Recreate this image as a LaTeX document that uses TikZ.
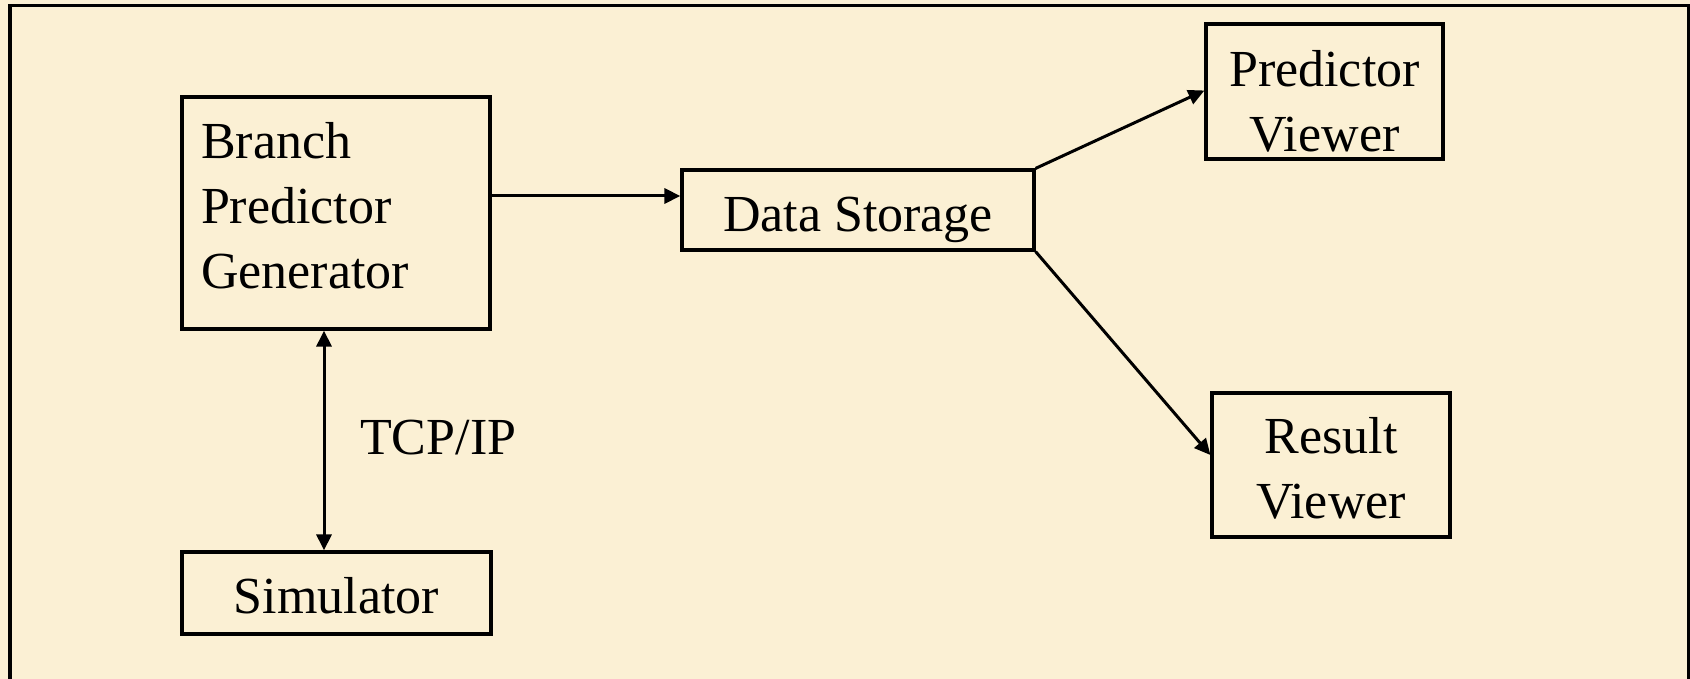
\documentclass[tikz,border=0pt]{standalone}
\usepackage{fontspec}
\setmainfont{Liberation Serif}
\usetikzlibrary{arrows.meta}
\definecolor{parch}{HTML}{FBF0D4}
\tikzset{
  boxst/.style={draw=black, line width=3.2pt, rectangle, inner sep=0pt},
  txt/.style={inner sep=0pt, align=center, font=\fontsize{52pt}{65pt}\selectfont},
  arr/.style={draw=black, line width=3pt, -{Triangle[length=16pt,width=15pt]}},
  darr/.style={draw=black, line width=3pt, {Triangle[length=16pt,width=15pt]}-{Triangle[length=16pt,width=15pt]}},
  lbl/.style={font=\fontsize{52pt}{64pt}\selectfont, inner sep=0pt}
}
\begin{document}
\begin{tikzpicture}[x=1pt,y=-1pt]
\useasboundingbox (0,0) rectangle (1690,679);
\fill[parch] (0,0) rectangle (1690,679);
\begin{scope}
\clip (0,0) rectangle (1690,679);
\draw[line width=3.4pt] (10,5.5) rectangle (1688.5,720);
\end{scope}

\node[boxst, minimum width=308pt, minimum height=232pt] (bpg) at (336,213) {};
\node[boxst, minimum width=309pt, minimum height=82pt] (sim) at (336.5,593) {};
\node[boxst, minimum width=352pt, minimum height=80pt] (ds) at (858,210) {};
\node[boxst, minimum width=237pt, minimum height=135pt] (pv) at (1324.5,91.5) {};
\node[boxst, minimum width=238pt, minimum height=144pt] (rv) at (1331,465) {};

\node[txt, text width=270pt, align=left] (bpgt) at ([yshift=7pt]bpg.center) {Branch\\Predictor\\Generator};
\node[txt, text depth=0pt] (simt) at ([yshift=-2pt]sim.center) {Simulator};
\node[txt, text depth=0pt] (dst) at ([yshift=-4pt]ds.center) {Data Storage};
\node[txt] (pvt) at ([yshift=-10pt]pv.center) {Predictor\\Viewer};
\node[txt] (rvt) at ([yshift=-3pt]rv.center) {Result\\Viewer};
\node[lbl, anchor=base west] (tcp) at (360,454) {TCP/IP};

\coordinate (ay) at (0,196);
\coordinate (ax) at (324,0);
\draw[arr] (bpg.east |- ay) -- (ds.west |- ay);
\draw[arr] (ds.north east) -- ([yshift=1pt]pv.west);
\draw[arr] (ds.south east) -- ([yshift=10pt]rv.west);
\draw[darr] (bpg.south -| ax) -- (sim.north -| ax);
\end{tikzpicture}
\end{document}
